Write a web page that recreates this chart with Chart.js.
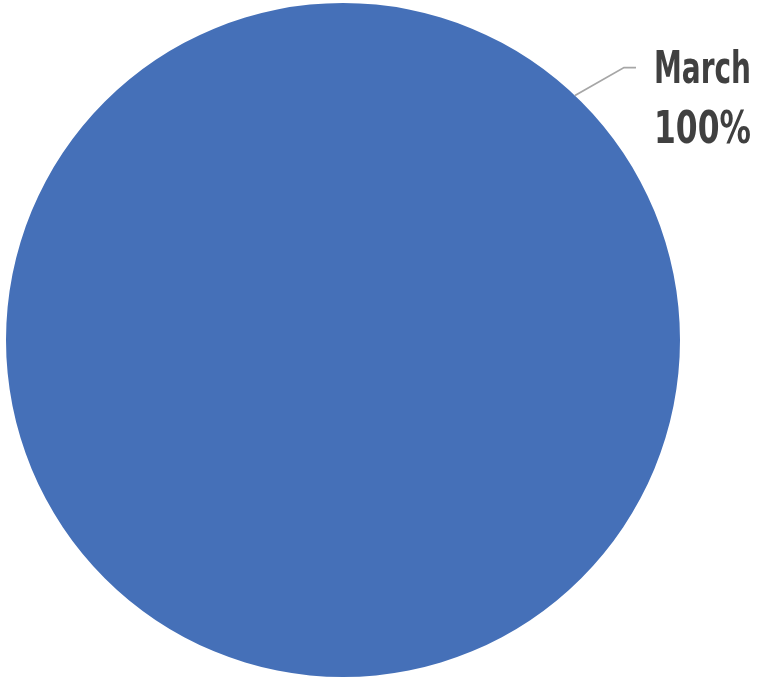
<!DOCTYPE html>
<html>
<head>
<meta charset="utf-8">
<script src="https://cdn.jsdelivr.net/npm/chart.js@4/dist/chart.umd.min.js"></script>
<style>
  html, body { margin: 0; padding: 0; background: #fff; }
  #wrap { width: 757px; height: 677px; }
</style>
</head>
<body>
<div id="wrap"><canvas id="myChart"></canvas></div>
<script>
const labels = ["March"];
const values = [100];
const colors = ["#4570B8"];

// leader line + "March / 100%" label, anchored on the slice's outer edge
const outsideLabels = {
  id: "outsideLabels",
  afterDraw(chart) {
    const ctx = chart.ctx;
    const meta = chart.getDatasetMeta(0);
    const total = values.reduce((a, b) => a + b, 0);
    meta.data.forEach((arc, i) => {
      const { x, y, outerRadius } = arc.getProps(["x", "y", "outerRadius"], true);
      // label sits to the upper right, like the original
      const ang = (-46.5 * Math.PI) / 180;
      const sx = x + Math.cos(ang) * outerRadius;
      const sy = y + Math.sin(ang) * outerRadius;
      const ex = sx + 49;
      const ey = sy - 28;
      ctx.save();
      ctx.strokeStyle = "#A6A6A6";
      ctx.lineWidth = 1.8;
      ctx.beginPath();
      ctx.moveTo(sx, sy);
      ctx.lineTo(ex, ey);
      ctx.lineTo(ex + 12, ey);
      ctx.stroke();
      ctx.restore();

      // condensed bold look: squeeze a normal bold face horizontally
      const pct = Math.round((values[i] / total) * 100) + "%";
      const tx = ex + 30;
      const drawSqueezed = (text, baseY, width) => {
        ctx.save();
        ctx.fillStyle = "#404040";
        ctx.font = "bold 45px 'DejaVu Sans', sans-serif";
        ctx.textAlign = "left";
        ctx.textBaseline = "alphabetic";
        const k = width / ctx.measureText(text).width;
        ctx.translate(tx, baseY);
        ctx.scale(k, 1);
        ctx.fillText(text, 0, 0);
        ctx.restore();
      };
      drawSqueezed(labels[i], ey + 15, 97);
      drawSqueezed(pct, ey + 75, 97);
    });
  },
};

const ctx = document.getElementById("myChart").getContext("2d");
new Chart(ctx, {
  type: "pie",
  data: {
    labels: labels,
    datasets: [
      {
        data: values,
        backgroundColor: colors,
        borderWidth: 0,
      },
    ],
  },
  options: {
    responsive: true,
    maintainAspectRatio: false,
    animation: false,
    layout: {
      padding: { left: 6, right: 77, top: 3, bottom: 0 },
    },
    plugins: {
      legend: { display: false },
      tooltip: { enabled: false },
    },
  },
  plugins: [outsideLabels],
});
</script>
</body>
</html>
